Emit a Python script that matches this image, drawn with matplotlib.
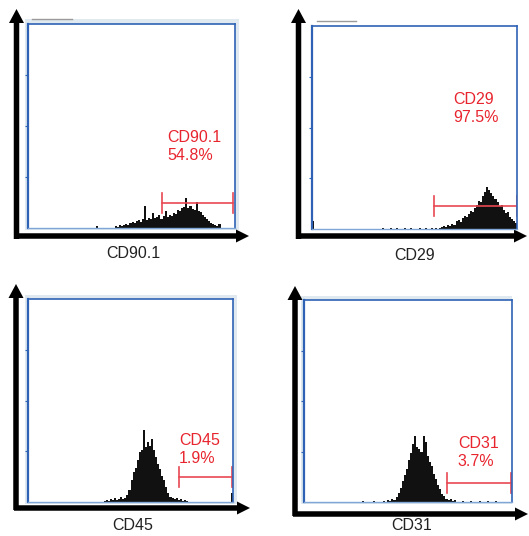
import matplotlib
matplotlib.use("Agg")
import matplotlib.pyplot as plt
from matplotlib.patches import FancyArrow, Rectangle

plt.rcParams['font.family'] = ['Liberation Sans', 'DejaVu Sans']

# ---- data (100 channels per panel, counts in px of box height) ----
markers = ['CD90.1', 'CD29', 'CD45', 'CD31']
percents = ['54.8%', '97.5%', '1.9%', '3.7%']

cd90_start = 42
cd90_counts = [2, 1, 3, 2, 3, 4, 3, 5, 6, 5, 7, 8, 6, 9, 22, 8, 10, 9, 15, 10,
               11, 13, 9, 12, 17, 11, 13, 12, 15, 14, 18, 17, 20, 21, 30, 20, 22, 19, 18, 26,
               17, 16, 13, 11, 9, 7, 5, 4, 3, 2, 4]
cd90_extra = {33: 2}

cd29_start = 62
cd29_counts = [1, 2, 3, 2, 4, 3, 5, 4, 8, 9, 7, 11, 13, 12, 15, 18, 17, 21, 24, 28,
               27, 33, 37, 42, 39, 36, 33, 30, 27, 23, 24, 19, 16, 17, 12, 10, 8, 6]
cd29_extra = {0: 8, 34: 1, 38: 1, 41: 1, 45: 1, 48: 1, 52: 1, 55: 1, 58: 1, 60: 1}

cd45_start = 37
cd45_counts = [1, 2, 1, 3, 2, 4, 2, 3, 5, 3, 4, 7, 12, 22, 30, 34, 42, 50, 52, 72,
               55, 60, 56, 63, 52, 45, 38, 33, 26, 22, 15, 9, 5, 4, 3, 4, 2, 3, 1, 2, 1]
cd45_extra = {99: 9}

cd31_start = 38
cd31_counts = [1, 0, 2, 1, 3, 2, 5, 9, 14, 21, 27, 33, 42, 49, 58, 66, 55, 53, 50, 66,
               60, 46, 40, 36, 28, 23, 17, 13, 8, 6, 3, 2, 3, 1, 2]
cd31_extra = {28: 1, 33: 1, 76: 1, 80: 1, 84: 1, 88: 1, 92: 1}

# gate: (from channel, to channel, height)
gates = [(64.7, 99.0, 25), (59.5, 100.0, 23), (73.7, 99.5, 25), (68.8, 99.5, 19)]
# red label position (channel, height)
label_pos = [(67.1, 81), (68.8, 120.5), (73.7, 52.5), (74.0, 49)]

starts = [cd90_start, cd29_start, cd45_start, cd31_start]
counts = [cd90_counts, cd29_counts, cd45_counts, cd31_counts]
extras = [cd90_extra, cd29_extra, cd45_extra, cd31_extra]

# ---- layout in pixels ----
W, H = 529, 536
boxes = [(28, 24, 235, 228), (312, 26, 517, 229), (28, 299, 233, 502), (304, 300, 512, 502)]
# light band behind box: (top extra, right extra)
bands = [(5, 4), (0, 0), (4, 4), (4, 0)]
# vertical arrow (x, y_bottom, y_top), horizontal arrow (y, x_left, x_right)
v_arrows = [(16.5, 239, 9), (298.5, 239, 9), (16, 510, 284), (295, 516, 286)]
h_arrows = [(236, 14, 249), (236, 296, 527), (508, 14, 250), (514, 293, 528)]
xlabel_pos = [(133, 253), (415, 255), (133, 526), (412, 526)]

fig = plt.figure(figsize=(W / 100, H / 100), dpi=100)

over = fig.add_axes([0, 0, 1, 1], zorder=0)
over.set_xlim(0, W)
over.set_ylim(H, 0)
over.axis('off')

red = '#e8252f'
gate_red = '#e84853'
blue = '#2f62b5'

for i in range(4):
    l, t, r, b = boxes[i]
    bt, br = bands[i]
    if bt or br:  # light shadow band around plot box
        over.add_patch(Rectangle((l - 3, t - bt), r - l + 3 + br, b - t + bt + 2,
                                 color='#dfe9ef', lw=0))

    ax = fig.add_axes([l / W, 1 - b / H, (r - l) / W, (b - t) / H], zorder=1)
    hmax = b - t
    ax.set_xlim(0, 100)
    ax.set_ylim(0, hmax)

    xs = list(range(starts[i], starts[i] + len(counts[i]))) + list(extras[i].keys())
    ys = list(counts[i]) + list(extras[i].values())
    ax.bar(xs, ys, width=1.0, align='edge', color='#111111', lw=0)

    g0, g1, gy = gates[i]
    ax.plot([g0, g1], [gy, gy], color=gate_red, lw=1.2)
    ax.plot([g0, g0], [gy - 10, gy + 10], color=gate_red, lw=1.2)
    ax.plot([g1, g1], [gy - 10, gy + 10], color=gate_red, lw=1.2)

    lx, ly = label_pos[i]
    ax.text(lx, ly, markers[i] + '\n' + percents[i], color=red, fontsize=11.5,
            ha='left', va='center', linespacing=1.25)

    ax.set_xticks([])
    ax.set_yticks([hmax / 4, hmax / 2, hmax * 3 / 4])
    ax.set_yticklabels([])
    ax.tick_params(axis='y', direction='out', length=2.5, width=0.8, color=blue)
    for side in ['left', 'top', 'right']:
        ax.spines[side].set_color(blue)
        ax.spines[side].set_linewidth(1.2)
    ax.spines['left'].set_linewidth(1.6)
    ax.spines['bottom'].set_color('#7fa6d6')
    ax.spines['bottom'].set_linewidth(1.0)

    # thick black axis arrows
    vx, vb, vt = v_arrows[i]
    over.add_patch(FancyArrow(vx, vb, 0, vt - vb, width=5.5, head_width=15, head_length=14,
                              length_includes_head=True, color='black', lw=0))
    hy, hl, hr = h_arrows[i]
    over.add_patch(FancyArrow(hl, hy, hr - hl, 0, width=5.5, head_width=13, head_length=13,
                              length_includes_head=True, color='black', lw=0))

    tx, ty = xlabel_pos[i]
    over.text(tx, ty, markers[i], fontsize=11.5, ha='center', va='center', color='#222222')

# short grey marks above the top boxes
over.plot([32, 72], [19, 19], color='#9a9a9a', lw=1)
over.plot([317, 356], [21, 21], color='#9a9a9a', lw=1)

fig.savefig('out.png', dpi=100)
